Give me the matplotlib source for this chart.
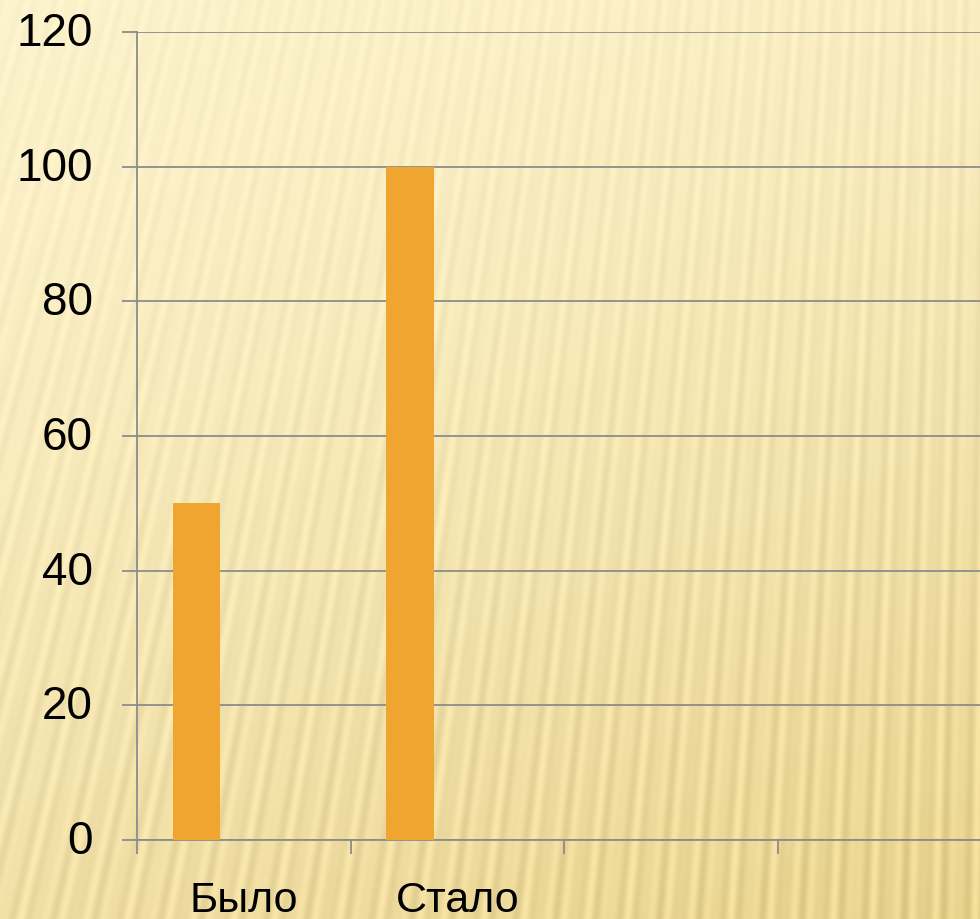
import numpy as np
import matplotlib.pyplot as plt
import matplotlib.transforms as mtransforms
from matplotlib.ticker import FixedLocator, NullFormatter

# Data
categories = ['Было', 'Стало', '', '']
series1 = [50, 100, np.nan, np.nan]
n_series = 3          # the chart reserves room for three series per category
gap_width = 1.5       # gap between category groups, in bar widths
y_ticks = [0, 20, 40, 60, 80, 100, 120]

bar_color = '#F0A531'
grid_color = '#8C8C8C'

W, H, DPI = 980, 920, 100
fig = plt.figure(figsize=(W / DPI, H / DPI), dpi=DPI)

# Striped cream background (fan of soft stripes, darker toward the bottom)
yy, xx = np.mgrid[0:H, 0:W].astype(float)
cx, cy = 1050.0, -3500.0
theta = np.arctan2(xx - cx, yy - cy)
stripe = (0.6 * np.sin(2 * np.pi * theta / 0.0046)
          + 0.4 * np.sin(2 * np.pi * theta / 0.0029 + 1.3))
t = np.clip((0.35 * xx / W + 0.85 * yy / H) / 1.2, 0, 1) ** 1.4
light = np.array([252, 242, 203]) / 255
dark = np.array([232, 210, 140]) / 255
base = light[None, None, :] * (1 - t[..., None]) + dark[None, None, :] * t[..., None]
amp = (0.015 + 0.045 * t)[..., None]
img = np.clip(base + amp * stripe[..., None], 0, 1)

bg = fig.add_axes([0, 0, 1, 1], zorder=-1)
bg.imshow(img, aspect='auto', extent=(0, 1, 0, 1), origin='upper')
bg.axis('off')

# Plot area (runs past the right edge of the figure, like the original)
left_px, right_px, top_px, bottom_px = 137, 991, 33, 841
ax = fig.add_axes([left_px / W, 1 - bottom_px / H,
                   (right_px - left_px) / W, (bottom_px - top_px) / H])
ax.set_facecolor('none')

x = np.arange(len(categories))
bw = 1.0 / (n_series + gap_width)
offset = -0.5 + gap_width * bw / 2 + bw / 2
ax.bar(x + offset, series1, width=bw, color=bar_color, zorder=3)

ax.set_xlim(-0.5, len(categories) - 0.5)
ax.set_ylim(0, 120)
ax.set_yticks(y_ticks)
ax.set_yticklabels([str(v) for v in y_ticks])

# category boundaries carry the tick marks, labels sit in the middle
ax.xaxis.set_major_locator(FixedLocator(np.arange(len(categories) + 1) - 0.5))
ax.xaxis.set_major_formatter(NullFormatter())
ax.xaxis.set_minor_locator(FixedLocator(x))
ax.set_xticklabels(categories, minor=True)

ax.grid(axis='y', color=grid_color, linewidth=1.3, zorder=1)
for s in ['top', 'right']:
    ax.spines[s].set_visible(False)
for s in ['left', 'bottom']:
    ax.spines[s].set_color(grid_color)
    ax.spines[s].set_linewidth(1.3)

ax.tick_params(axis='y', which='major', direction='out', length=10.8,
               width=1.3, color=grid_color, pad=21, labelsize=33,
               labelfontfamily='Liberation Sans')
ax.tick_params(axis='x', which='major', direction='out', length=10,
               width=1.3, color=grid_color)
ax.tick_params(axis='x', which='minor', length=0, pad=29, labelsize=31,
               labelfontfamily='Liberation Sans')

# nudge the value labels up so the digits sit centred on the gridlines
shift = mtransforms.ScaledTranslation(0, 4 / DPI, fig.dpi_scale_trans)
for lab in ax.get_yticklabels():
    lab.set_transform(lab.get_transform() + shift)

plt.savefig('out.png', dpi=DPI)
